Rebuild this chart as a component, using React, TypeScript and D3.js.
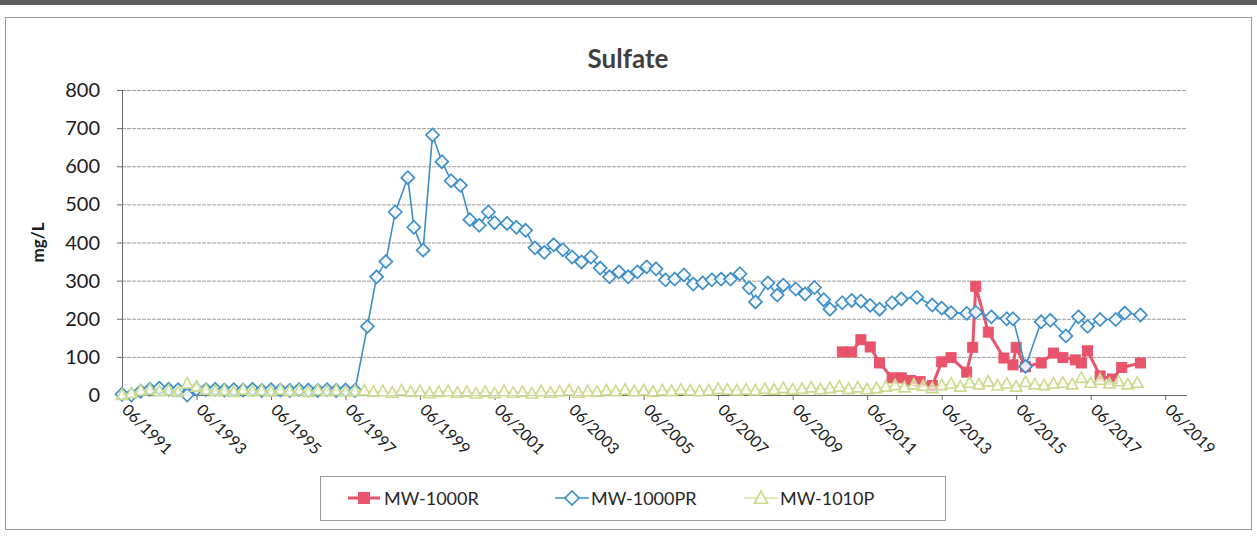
import React from 'react';
import * as d3 from 'd3';

// Sulfate concentrations (mg/L) at three monitoring wells

const yTickValues = [0, 100, 200, 300, 400, 500, 600, 700, 800];
const xTickLabels = [
  '06/1991', '06/1993', '06/1995', '06/1997', '06/1999', '06/2001', '06/2003', '06/2005',
  '06/2007', '06/2009', '06/2011', '06/2013', '06/2015', '06/2017', '06/2019',
];
const seriesNames = ['MW-1000R', 'MW-1000PR', 'MW-1010P'];

const mw1000rDates = [
  '2010-10', '2011-01', '2011-04', '2011-07', '2011-10', '2012-02', '2012-05', '2012-08',
  '2012-11', '2013-03', '2013-06', '2013-09', '2014-02', '2014-04', '2014-05', '2014-09',
  '2015-02', '2015-05', '2015-06', '2015-09', '2016-02', '2016-06', '2016-09', '2017-01',
  '2017-03', '2017-05', '2017-09', '2018-01', '2018-04', '2018-10',
];
const mw1000rValues = [
  113, 113, 145, 126, 84, 45, 45, 38,
  35, 25, 87, 98, 60, 125, 285, 165,
  97, 79, 125, 74, 84, 110, 98, 92,
  84, 116, 50, 42, 72, 84,
];

const mw1000prDates = [
  '1991-06', '1991-09', '1991-12', '1992-03', '1992-06', '1992-09', '1992-12', '1993-03',
  '1993-06', '1993-09', '1993-12', '1994-03', '1994-06', '1994-09', '1994-12', '1995-03',
  '1995-06', '1995-09', '1995-12', '1996-03', '1996-06', '1996-09', '1996-12', '1997-03',
  '1997-06', '1997-09',
  '1998-01', '1998-04', '1998-07', '1998-10', '1999-02', '1999-04', '1999-07', '1999-10',
  '2000-01', '2000-04', '2000-07', '2000-10', '2001-01', '2001-04', '2001-06', '2001-10',
  '2002-01', '2002-04', '2002-07', '2002-10', '2003-01', '2003-04', '2003-07', '2003-10',
  '2004-01', '2004-04', '2004-07', '2004-10', '2005-01', '2005-04', '2005-07', '2005-10',
  '2006-01', '2006-04', '2006-07', '2006-10', '2007-01', '2007-04', '2007-07', '2007-10',
  '2008-01', '2008-04', '2008-06', '2008-10', '2009-01', '2009-03', '2009-07', '2009-10',
  '2010-01', '2010-04', '2010-06', '2010-10', '2011-01', '2011-04', '2011-07', '2011-10',
  '2012-02', '2012-05', '2012-10', '2013-03', '2013-06', '2013-09', '2014-02', '2014-05',
  '2014-10', '2015-03', '2015-05', '2015-09', '2016-02', '2016-05', '2016-10', '2017-02',
  '2017-05', '2017-09', '2018-02', '2018-05', '2018-10',
];
const mw1000prValues = [
  2, 0, 10, 15, 18, 15, 14, 0,
  15, 14, 15, 13, 14, 13, 15, 12,
  14, 13, 12, 14, 13, 12, 14, 12,
  13, 12,
  180, 310, 350, 480, 570, 440, 380, 682,
  612, 562, 550, 460, 445, 480, 452, 450,
  440, 432, 386, 374, 394, 381, 362, 349,
  362, 333, 310, 323, 310, 323, 336, 331,
  302, 304, 315, 291, 294, 302, 304, 304,
  318, 281, 244, 294, 262, 288, 278, 265,
  282, 250, 225, 242, 248, 246, 235, 225,
  242, 252, 256, 236, 228, 216, 214, 217,
  205, 200, 200, 75, 192, 196, 155, 205,
  180, 198, 198, 215, 210,
];

const mw1010pDates = [
  '1991-06', '1991-09', '1991-12',
  '1992-03', '1992-06', '1992-09', '1992-12', '1993-03', '1993-06', '1993-09', '1993-12',
  '1994-03', '1994-06', '1994-09', '1994-12', '1995-03', '1995-06', '1995-09', '1995-12',
  '1996-03', '1996-06', '1996-09', '1996-12', '1997-03', '1997-06', '1997-09', '1997-12',
  '1998-03', '1998-06', '1998-09', '1998-12', '1999-03', '1999-06', '1999-09', '1999-12',
  '2000-03', '2000-06', '2000-09', '2000-12', '2001-03', '2001-06', '2001-09', '2001-12',
  '2002-03', '2002-06', '2002-09', '2002-12', '2003-03', '2003-06', '2003-09', '2003-12',
  '2004-03', '2004-06', '2004-09', '2004-12', '2005-03', '2005-06', '2005-09', '2005-12',
  '2006-03', '2006-06', '2006-09', '2006-12', '2007-03', '2007-06', '2007-09', '2007-12',
  '2008-03', '2008-06', '2008-09', '2008-12', '2009-03', '2009-06', '2009-09', '2009-12',
  '2010-03', '2010-06', '2010-09', '2010-12', '2011-03', '2011-06', '2011-09', '2011-12',
  '2012-03', '2012-06', '2012-09', '2012-12', '2013-03', '2013-06', '2013-09', '2013-12',
  '2014-03', '2014-06', '2014-09', '2014-12', '2015-03', '2015-06', '2015-09', '2015-12',
  '2016-03', '2016-06', '2016-09', '2016-12', '2017-03', '2017-06', '2017-09', '2017-12',
  '2018-03', '2018-06', '2018-09',
];
const mw1010pValues = [
  0, 5, 12,
  14, 10, 12, 8, 30, 22, 14, 10,
  12, 8, 14, 10, 12, 9, 14, 10,
  12, 8, 13, 10, 12, 9, 10, 12,
  8, 10, 6, 12, 8, 10, 5, 8,
  10, 6, 8, 4, 8, 5, 10, 6,
  8, 4, 10, 6, 9, 12, 6, 10,
  8, 12, 10, 14, 10, 12, 8, 12,
  10, 14, 12, 10, 12, 16, 14, 12,
  14, 12, 16, 14, 18, 14, 16, 20,
  15, 18, 22, 16, 20, 15, 18, 22,
  26, 20, 28, 24, 18, 26, 30, 22,
  32, 28, 35, 25, 30, 22, 34, 28,
  26, 30, 32, 28, 45, 32, 40, 30,
  36, 28, 32,
];

const W = 1257;
const H = 540;
const plot = { left: 122, right: 1187, top: 90, bottom: 395 };
const FONT = 'Lato, Carlito, Calibri, "Open Sans", sans-serif';

const RED = '#e8546b';
const BLUE = '#3d8fcb';
const GREEN = '#c9dc8c';
const GREEN_LINE = '#d7e5a6';

const parseMonth = d3.timeParse('%Y-%m');

type Pt = { date: Date; value: number };
const zipSeries = (dates: string[], values: number[]): Pt[] =>
  dates.map((d, i) => ({ date: parseMonth(d) as Date, value: values[i] }));

const redData = zipSeries(mw1000rDates, mw1000rValues);
const blueData = zipSeries(mw1000prDates, mw1000prValues);
const greenData = zipSeries(mw1010pDates, mw1010pValues);

const x = d3
  .scaleTime()
  .domain([new Date(1991, 5, 1), new Date(2020, 0, 1)])
  .range([plot.left, plot.right]);
const y = d3.scaleLinear().domain([0, 800]).range([plot.bottom, plot.top]);

const line = d3
  .line<Pt>()
  .x((d) => x(d.date))
  .y((d) => y(d.value));

const tickDates = xTickLabels.map((s) => d3.timeParse('%m/%Y')(s) as Date);

function Square({ cx, cy, s = 10, color = RED }: { cx: number; cy: number; s?: number; color?: string }) {
  return <rect x={cx - s / 2} y={cy - s / 2} width={s} height={s} fill={color} stroke={color} strokeWidth={1} />;
}

function Diamond({ cx, cy, r = 6.5 }: { cx: number; cy: number; r?: number }) {
  const d = `M${cx},${cy - r}L${cx + r},${cy}L${cx},${cy + r}L${cx - r},${cy}Z`;
  return <path d={d} fill="#ffffff" fillOpacity={0.85} stroke={BLUE} strokeWidth={1.7} />;
}

function Triangle({ cx, cy, r = 6 }: { cx: number; cy: number; r?: number }) {
  const d = `M${cx},${cy - r}L${cx + r * 0.95},${cy + r * 0.75}L${cx - r * 0.95},${cy + r * 0.75}Z`;
  return <path d={d} fill="#ffffff" fillOpacity={0.6} stroke={GREEN} strokeWidth={1.6} />;
}

export default function App() {
  const legendY = 498;
  const legendItems = [
    { name: seriesNames[0], x0: 348, kind: 'square' },
    { name: seriesNames[1], x0: 555, kind: 'diamond' },
    { name: seriesNames[2], x0: 744, kind: 'triangle' },
  ];

  return (
    <svg
      width={W}
      height={H}
      style={{ position: 'absolute', left: 0, top: 0, background: '#ffffff' }}
      fontFamily={FONT}
    >
      {/* page edge and chart frame */}
      <rect x={0} y={0} width={W} height={5} fill="#5c5c5c" />
      <rect x={5.5} y={17.5} width={1246} height={512} fill="none" stroke="#9a9a9a" strokeWidth={1} />

      {/* title */}
      <text x={628} y={68} textAnchor="middle" fontSize={26} fontWeight={700} fill="#3f3f3f">
        Sulfate
      </text>

      {/* horizontal gridlines */}
      {yTickValues.map((v) => (
        <line
          key={`g${v}`}
          x1={plot.left}
          x2={plot.right}
          y1={y(v) + 0.5}
          y2={y(v) + 0.5}
          stroke={v === 0 ? '#6a6a6a' : '#9c9c9c'}
          strokeWidth={1}
          strokeDasharray={v === 0 ? undefined : '4 1'}
        />
      ))}

      {/* y axis */}
      <line x1={plot.left + 0.5} x2={plot.left + 0.5} y1={plot.top} y2={plot.bottom} stroke="#6a6a6a" strokeWidth={1} />
      {yTickValues.map((v) => (
        <g key={`yt${v}`}>
          <line x1={plot.left - 5} x2={plot.left} y1={y(v) + 0.5} y2={y(v) + 0.5} stroke="#6a6a6a" />
          <text x={plot.left - 22} y={y(v) + 7} textAnchor="end" fontSize={20} fill="#1a1a1a">
            {v}
          </text>
        </g>
      ))}
      <text
        transform={`translate(44, ${(plot.top + plot.bottom) / 2}) rotate(-90)`}
        textAnchor="middle"
        fontSize={17}
        fontWeight={700}
        fill="#1a1a1a"
      >
        mg/L
      </text>

      {/* x axis ticks and rotated labels */}
      {tickDates.map((d, i) => {
        const tx = x(d);
        return (
          <g key={`xt${i}`}>
            <line x1={tx + 0.5} x2={tx + 0.5} y1={plot.bottom} y2={plot.bottom + 5} stroke="#6a6a6a" />
            <text
              transform={`translate(${tx - 1}, ${plot.bottom + 16}) rotate(45)`}
              fontSize={16}
              fill="#1a1a1a"
            >
              {xTickLabels[i]}
            </text>
          </g>
        );
      })}

      {/* MW-1000R */}
      <path d={line(redData) || ''} fill="none" stroke={RED} strokeWidth={3} />
      {redData.map((p, i) => (
        <Square key={`r${i}`} cx={x(p.date)} cy={y(p.value)} />
      ))}

      {/* MW-1000PR */}
      <path d={line(blueData) || ''} fill="none" stroke={BLUE} strokeWidth={1.6} />
      {blueData.map((p, i) => (
        <Diamond key={`b${i}`} cx={x(p.date)} cy={y(p.value)} />
      ))}

      {/* MW-1010P */}
      <path d={line(greenData) || ''} fill="none" stroke={GREEN_LINE} strokeWidth={1.3} />
      {greenData.map((p, i) => (
        <Triangle key={`gr${i}`} cx={x(p.date)} cy={y(p.value)} />
      ))}

      {/* legend */}
      <rect x={320.5} y={476.5} width={625} height={44} fill="#ffffff" stroke="#9a9a9a" strokeWidth={1} />
      {legendItems.map((it) => (
        <g key={it.name}>
          {it.kind === 'square' && (
            <>
              <line x1={it.x0} x2={it.x0 + 32} y1={legendY} y2={legendY} stroke={RED} strokeWidth={3} />
              <Square cx={it.x0 + 16} cy={legendY} s={11} />
            </>
          )}
          {it.kind === 'diamond' && (
            <>
              <line x1={it.x0} x2={it.x0 + 34} y1={legendY} y2={legendY} stroke={BLUE} strokeWidth={1.6} />
              <Diamond cx={it.x0 + 17} cy={legendY} r={7} />
            </>
          )}
          {it.kind === 'triangle' && (
            <>
              <line x1={it.x0} x2={it.x0 + 34} y1={legendY} y2={legendY} stroke={GREEN_LINE} strokeWidth={1.3} />
              <Triangle cx={it.x0 + 17} cy={legendY} r={7} />
            </>
          )}
          <text x={it.x0 + 36} y={legendY + 6.5} fontSize={18} fill="#262626">
            {it.name}
          </text>
        </g>
      ))}
    </svg>
  );
}
